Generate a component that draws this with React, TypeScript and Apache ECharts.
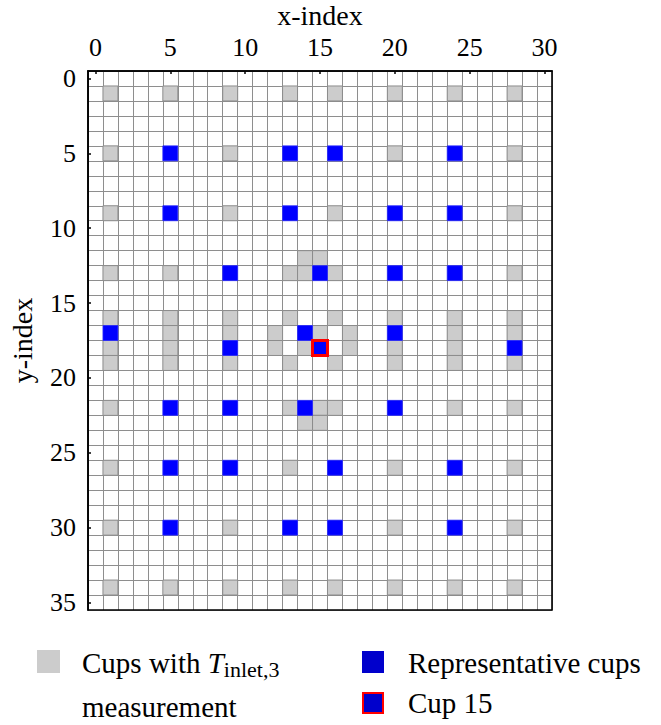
import React, { useEffect, useRef } from "react";
import * as echarts from "echarts";

// ---- data ----
const xTickValues = [0, 5, 10, 15, 20, 25, 30];
const yTickValues = [0, 5, 10, 15, 20, 25, 30, 35];
const xAxisName = "x-index";
const yAxisName = "y-index";
const xExtent = [-0.5, 30.5];
const yExtent = [-0.5, 35.5];

// [x-index, y-index] of cups with T_inlet,3 measurement (grey)
const measuredCups: number[][] = [
  [1, 1], [5, 1], [9, 1], [13, 1], [16, 1], [20, 1], [24, 1], [28, 1],
  [1, 5], [9, 5], [20, 5], [28, 5],
  [1, 9], [9, 9], [16, 9], [28, 9],
  [14, 12], [15, 12],
  [1, 13], [5, 13], [13, 13], [14, 13], [16, 13], [28, 13],
  [1, 16], [5, 16], [9, 16], [13, 16], [16, 16], [20, 16], [24, 16], [28, 16],
  [5, 17], [9, 17], [12, 17], [15, 17], [17, 17], [24, 17], [28, 17],
  [1, 18], [5, 18], [12, 18], [14, 18], [17, 18], [20, 18], [24, 18],
  [1, 19], [5, 19], [9, 19], [13, 19], [16, 19], [20, 19], [24, 19], [28, 19],
  [1, 22], [13, 22], [15, 22], [16, 22], [24, 22], [28, 22],
  [14, 23], [15, 23],
  [1, 26], [13, 26], [20, 26], [28, 26],
  [1, 30], [9, 30], [20, 30], [28, 30],
  [1, 34], [5, 34], [9, 34], [13, 34], [16, 34], [20, 34], [24, 34], [28, 34],
];

// representative cups (blue)
const representativeCups: number[][] = [
  [5, 5], [13, 5], [16, 5], [24, 5],
  [5, 9], [13, 9], [20, 9], [24, 9],
  [9, 13], [15, 13], [20, 13], [24, 13],
  [1, 17], [14, 17], [20, 17],
  [9, 18], [28, 18],
  [5, 22], [9, 22], [14, 22], [20, 22],
  [5, 26], [9, 26], [16, 26], [24, 26],
  [5, 30], [13, 30], [16, 30], [24, 30],
];

const cup15: number[][] = [[15, 18]];

const legendMeasured = "Cups with ";
const legendMeasuredSymbol = "T";
const legendMeasuredSub = "inlet,3";
const legendMeasuredLine2 = "measurement";
const legendRepresentative = "Representative cups";
const legendCup15 = "Cup 15";

// ---- styles ----
const FONT = "'Liberation Serif', 'Times New Roman', serif";
const GREY = "#cccccc";
const GREY_EDGE = "#8c8c8c";
const BLUE = "#0000ff";
const LEGEND_BLUE = "#0000cc";
const RED = "#ff0000";
const GRIDLINE = "#8e8e8e";

function cellRenderer(fill: string, stroke: string, lineWidth: number) {
  return (params: any, api: any) => {
    const x = api.value(0) as number;
    const y = api.value(1) as number;
    const a = api.coord([x - 0.5, y - 0.5]);
    const b = api.coord([x + 0.5, y + 0.5]);
    return {
      type: "rect",
      shape: {
        x: Math.min(a[0], b[0]),
        y: Math.min(a[1], b[1]),
        width: Math.abs(b[0] - a[0]),
        height: Math.abs(b[1] - a[1]),
      },
      style: { fill, stroke, lineWidth },
    };
  };
}

export default function App() {
  const ref = useRef<HTMLDivElement>(null);

  useEffect(() => {
    if (!ref.current) return;
    const chart = echarts.init(ref.current, undefined, { renderer: "svg" });

    const hidden = { show: false };
    const borderLine = { show: true, onZero: false, lineStyle: { color: "#000", width: 1.6 } };
    const gridRect = {
      left: 88,
      top: 71,
      width: 464,
      height: 539,
      containLabel: false,
      outerBoundsMode: "none",
    };
    const option: any = {
      animation: false,
      backgroundColor: "#ffffff",
      grid: [
        {
          ...gridRect,
          show: true,
          backgroundColor: "transparent",
          borderColor: "#000",
          borderWidth: 1.6,
          z: 10,
        },
        { ...gridRect },
      ],
      xAxis: [
        {
          type: "value",
          gridIndex: 0,
          position: "top",
          min: xExtent[0],
          max: xExtent[1],
          name: xAxisName,
          nameLocation: "middle",
          nameGap: 41,
          nameTextStyle: { fontFamily: FONT, fontSize: 28, color: "#000" },
          axisLine: borderLine,
          axisTick: {
            show: true,
            inside: true,
            length: 3,
            customValues: xTickValues,
            lineStyle: { color: "#000", width: 1.5 },
          },
          axisLabel: {
            show: true,
            customValues: xTickValues,
            margin: 11,
            fontFamily: FONT,
            fontSize: 26,
            color: "#000",
          },
          splitLine: hidden,
          z: 5,
        },
        {
          type: "value",
          gridIndex: 1,
          position: "bottom",
          min: xExtent[0],
          max: xExtent[1],
          interval: 1,
          axisLine: { show: false, onZero: false },
          axisTick: hidden,
          axisLabel: hidden,
          splitLine: { show: true, lineStyle: { color: GRIDLINE, width: 1 } },
          z: 0,
        },
      ],
      yAxis: [
        {
          type: "value",
          gridIndex: 0,
          position: "left",
          inverse: true,
          min: yExtent[0],
          max: yExtent[1],
          name: yAxisName,
          nameLocation: "middle",
          nameRotate: 90,
          nameGap: 52,
          nameTextStyle: { fontFamily: FONT, fontSize: 28, color: "#000" },
          axisLine: borderLine,
          axisTick: {
            show: true,
            inside: true,
            length: 3,
            customValues: yTickValues,
            lineStyle: { color: "#000", width: 1.5 },
          },
          axisLabel: {
            show: true,
            customValues: yTickValues,
            margin: 12,
            fontFamily: FONT,
            fontSize: 26,
            color: "#000",
          },
          splitLine: hidden,
          z: 5,
        },
        {
          type: "value",
          gridIndex: 1,
          position: "left",
          inverse: true,
          min: yExtent[0],
          max: yExtent[1],
          interval: 1,
          axisLine: { show: false, onZero: false },
          axisTick: hidden,
          axisLabel: hidden,
          splitLine: { show: true, lineStyle: { color: GRIDLINE, width: 1 } },
          z: 0,
        },
      ],
      series: [
        {
          name: legendMeasured + legendMeasuredSymbol + legendMeasuredSub + " " + legendMeasuredLine2,
          type: "custom",
          xAxisIndex: 0,
          yAxisIndex: 0,
          encode: { x: 0, y: 1 },
          data: measuredCups,
          renderItem: cellRenderer(GREY, GREY_EDGE, 1),
          z: 2,
        },
        {
          name: legendRepresentative,
          type: "custom",
          xAxisIndex: 0,
          yAxisIndex: 0,
          encode: { x: 0, y: 1 },
          data: representativeCups,
          renderItem: cellRenderer(BLUE, "#2a2aff", 0.8),
          z: 3,
        },
        {
          name: legendCup15,
          type: "custom",
          xAxisIndex: 0,
          yAxisIndex: 0,
          encode: { x: 0, y: 1 },
          data: cup15,
          renderItem: cellRenderer(BLUE, RED, 3),
          z: 4,
        },
      ],
      graphic: [
        { type: "rect", shape: { x: 37, y: 650, width: 23, height: 23 }, style: { fill: GREY } },
        {
          type: "text",
          x: 82,
          y: 663,
          style: {
            text: `{a|${legendMeasured}}{t|${legendMeasuredSymbol}}{s|${legendMeasuredSub}}`,
            verticalAlign: "middle",
            rich: {
              a: { fontFamily: FONT, fontSize: 29, lineHeight: 35, fill: "#000" },
              t: { fontFamily: FONT, fontSize: 29, fontStyle: "italic", lineHeight: 35, fill: "#000" },
              s: { fontFamily: FONT, fontSize: 22, lineHeight: 21, verticalAlign: "bottom", fill: "#000" },
            },
          },
        },
        {
          type: "text",
          x: 82,
          y: 706.5,
          style: { text: legendMeasuredLine2, font: `29px ${FONT}`, fill: "#000", verticalAlign: "middle" },
        },
        { type: "rect", shape: { x: 362, y: 651, width: 22, height: 22 }, style: { fill: LEGEND_BLUE } },
        {
          type: "text",
          x: 408,
          y: 663,
          style: { text: legendRepresentative, font: `29px ${FONT}`, fill: "#000", verticalAlign: "middle" },
        },
        {
          type: "rect",
          shape: { x: 363, y: 693, width: 20, height: 20 },
          style: { fill: LEGEND_BLUE, stroke: RED, lineWidth: 2 },
        },
        {
          type: "text",
          x: 408,
          y: 702.5,
          style: { text: legendCup15, font: `29px ${FONT}`, fill: "#000", verticalAlign: "middle" },
        },
      ],
    };

    chart.setOption(option);
    return () => chart.dispose();
  }, []);

  return (
    <div
      ref={ref}
      style={{ position: "fixed", left: 0, top: 0, width: 661, height: 725, background: "#fff" }}
    />
  );
}
